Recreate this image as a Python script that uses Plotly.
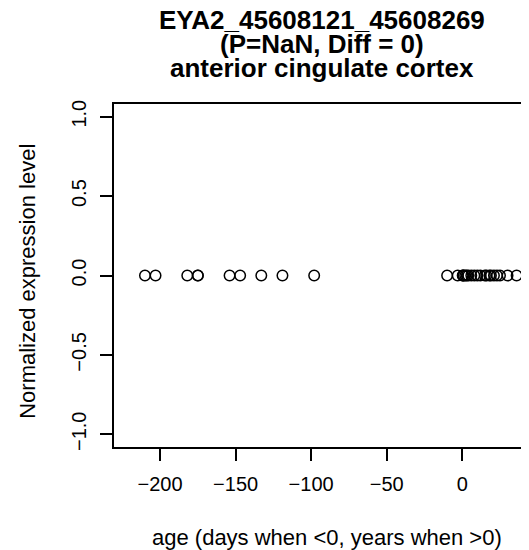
import plotly.graph_objects as go

# ages: days when <0, years when >0
age_prenatal = [-210, -203, -182, -175, -175, -154, -147, -133, -119, -98]
age_postnatal = [-10, -3, 0.3, 0.5, 1, 2, 3, 4, 6, 8, 10, 12, 15, 16, 18, 19, 21, 23, 25, 30, 36]
expr_prenatal = [0] * len(age_prenatal)
expr_postnatal = [0] * len(age_postnatal)

x_ticks = [-200, -150, -100, -50, 0]
x_tick_text = ["\u2212200", "\u2212150", "\u2212100", "\u221250", "0"]
y_ticks = [-1, -0.5, 0, 0.5, 1]
y_tick_text = ["\u22121.0", "\u22120.5", "0.0", "0.5", "1.0"]

title_lines = ["EYA2_45608121_45608269", "(P=NaN, Diff = 0)", "anterior cingulate cortex"]

# the page body adds an 8px margin, so the figure is 8px smaller than the window
W, H = 521, 542
L, T, B = 106.3, 96, 438.7
font = "Liberation Sans, Arial, sans-serif"


def px(x):
    return (x - L) / (W - L)


def py(y):
    return (B - y) / (B - T)


fig = go.Figure()
fig.add_trace(go.Scatter(
    x=age_prenatal + age_postnatal,
    y=expr_prenatal + expr_postnatal,
    mode="markers",
    marker=dict(symbol="circle-open", size=10.5, color="black", line=dict(width=1.5, color="black")),
    showlegend=False,
))

axis_common = dict(showline=True, linecolor="black", linewidth=1.5, ticks="outside",
                   ticklen=12, tickwidth=1.5, tickcolor="black", showgrid=False, zeroline=False,
                   ticklabelstandoff=6,
                   tickfont=dict(family=font, size=20, color="black"))

fig.update_layout(
    width=W, height=H, autosize=False,
    margin=dict(l=L, r=0, t=T, b=H - B, pad=0),
    plot_bgcolor="white", paper_bgcolor="white",
    xaxis=dict(range=[-230.5, 44.2], tickvals=x_ticks, ticktext=x_tick_text, mirror=True, **axis_common),
    yaxis=dict(range=[-1.08, 1.08], tickvals=y_ticks, ticktext=y_tick_text, tickangle=-90, **axis_common),
)

annotations = []
for i, line in enumerate(title_lines):
    annotations.append(dict(text="<b>%s</b>" % line, x=0.5, y=py(12 + 24 * i), xref="paper", yref="paper",
                            showarrow=False, xanchor="center", yanchor="middle",
                            font=dict(family=font, size=26, color="black")))
annotations.append(dict(text="age (days when <0, years when >0)", x=px(319), y=py(529), xref="paper", yref="paper",
                        showarrow=False, xanchor="center", yanchor="middle",
                        font=dict(family=font, size=22, color="black")))
annotations.append(dict(text="Normalized expression level", x=px(20), y=py(273), xref="paper", yref="paper",
                        showarrow=False, xanchor="center", yanchor="middle", textangle=-90,
                        font=dict(family=font, size=22, color="black")))
fig.update_layout(annotations=annotations)

fig.write_html("out.html")
